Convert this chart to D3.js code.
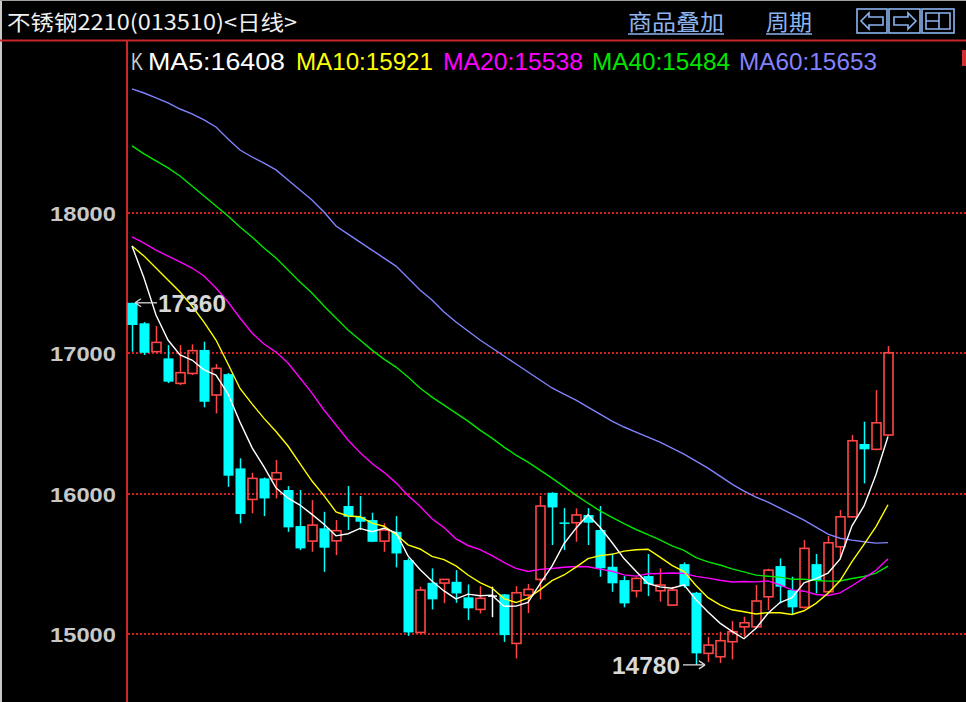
<!DOCTYPE html>
<html><head><meta charset="utf-8">
<script src="https://cdn.jsdelivr.net/npm/d3@7"></script>
<style>html,body{margin:0;padding:0;background:#000;overflow:hidden} svg{display:block}</style>
</head><body><svg id="c" width="966" height="702"></svg>
<script>
// ---- data ----
const opens  = [17360,17214,17012,16964,16786,16857,17024,16703,16852,16180,15959,16109,16102,16026,15769,15662,15753,15664,15912,15835,15812,15662,15728,15527,15011,15365,15363,15372,15261,15175,15270,15282,14933,15277,15389,16006,15795,15793,15848,15741,15479,15384,15308,15413,15308,15206,15498,15294,14862,14838,14945,15051,15051,15265,15484,15313,15190,15498,15301,15622,15835,16354,16316,16418];
const highs  = [17360,17223,17195,17059,17059,17064,17083,16924,16860,16252,16149,16115,16240,16054,16026,15954,15871,15812,16054,15983,15864,15790,15840,15540,15337,15468,15392,15455,15353,15341,15337,15285,15341,15356,15983,16010,15897,15895,15897,15912,15574,15413,15405,15570,15468,15337,15510,15300,14980,15016,15092,15123,15349,15465,15539,15408,15669,15570,15698,15883,16418,16513,16738,17052];
const lows   = [17012,16988,17005,16788,16774,16845,16615,16572,16049,15788,15860,15840,15966,15728,15598,15586,15443,15562,15741,15741,15655,15586,15475,14987,15005,15175,15220,15222,15099,15147,15120,14944,14826,15149,15247,15634,15598,15657,15634,15408,15301,15190,15261,15270,15230,15200,15330,14780,14800,14793,14819,14980,15040,15170,15218,15135,15180,15289,15290,15551,15830,16073,16310,16410];
const closes = [17202,17004,17078,16798,16862,17019,16655,16893,16128,15855,16109,15966,16149,15760,15610,15776,15615,15736,15835,15800,15657,15741,15574,15011,15313,15247,15389,15289,15183,15254,15270,14992,15294,15318,15912,15902,15790,15848,15793,15468,15361,15218,15396,15356,15349,15313,15341,14862,14921,14952,15016,15080,15235,15455,15337,15190,15610,15384,15650,15835,16377,16316,16505,17004];
const ma5Head  = [17765,17537,17273,17095];
const ma10Head = [17765,17693,17608,17522,17437,17337,17223,17095,16924];
const ma20Head = [17829,17786,17736,17693,17651,17608,17551,17465,17366,17252,17145,17066,17009,16931,16824,16717,16596,16489,16382];
const ma40Head = [18478,18421,18371,18321,18264,18192,18121,18050,17979,17900,17829,17751,17679,17594,17508,17430,17337,17252,17166,17095,17023,16959,16902,16831,16753,16688,16631,16574,16517,16453,16396,16332,16275,16225,16168,16111,16050,15990,15932];
const ma60Head = [18884,18855,18820,18784,18741,18706,18663,18613,18527,18449,18399,18356,18307,18235,18164,18093,18007,17907,17850,17793,17736,17679,17622,17537,17451,17380,17294,17223,17159,17095,17038,16981,16924,16867,16810,16753,16710,16667,16617,16567,16517,16475,16439,16403,16368,16325,16282,16232,16182,16125,16068,16018,15976,15940,15897,15854,15812,15762,15712];
const yTicks = [15000,16000,17000,18000];
const maNames  = ["MA5","MA10","MA20","MA40","MA60"];
const maPeriods = [5,10,20,40,60];
const maLegendValues = [16408,15921,15538,15484,15653];
const maColors = ["#ffffff","#ffff00","#ff00ff","#00e600","#8282ff"];
const titleText = "不锈钢2210(013510)<日线>";

// ---- build ----
const svg = d3.select("#c");
const W = 966, H = 702;
svg.append("rect").attr("width",W).attr("height",H).attr("fill","#000");
svg.append("rect").attr("x",0).attr("y",0).attr("width",2).attr("height",H).attr("fill","#c8c8c8");
svg.append("rect").attr("x",0).attr("y",0).attr("width",W).attr("height",1).attr("fill","#a0a0a0");

const N = closes.length;
const x = d3.scaleLinear().domain([0, N-1]).range([132, 888]);
const y = d3.scaleLinear().domain([15000, 18000]).range([634, 213]);

function movingAvg(period, head){
  return closes.map((c,i)=> i < period-1 ? head[i] : d3.mean(closes.slice(i-period+1, i+1)));
}
const heads = [ma5Head, ma10Head, ma20Head, ma40Head, ma60Head];
const maSeries = maPeriods.map((p,k)=>movingAvg(p, heads[k]));

// frame lines
svg.append("line").attr("x1",0).attr("x2",W).attr("y1",40.5).attr("y2",40.5).attr("stroke","#c82828").attr("stroke-width",2);
svg.append("line").attr("x1",127).attr("x2",127).attr("y1",40).attr("y2",H).attr("stroke","#c82828").attr("stroke-width",2);
svg.append("rect").attr("x",962).attr("y",50).attr("width",4).attr("height",16).attr("fill","#d03030");

// grid
svg.append("g").selectAll("line").data(yTicks).join("line")
  .attr("x1",128).attr("x2",W).attr("y1",d=>Math.round(y(d))).attr("y2",d=>Math.round(y(d)))
  .attr("stroke","#d02020").attr("stroke-width",1.3).attr("stroke-dasharray","2,2").attr("shape-rendering","crispEdges");

// y axis
const ax = svg.append("g").attr("transform","translate(118,0)")
  .call(d3.axisLeft(y).tickValues(yTicks).tickSize(0).tickPadding(2).tickFormat(d3.format("d")));
ax.select(".domain").remove();
ax.selectAll("text").attr("fill","#c8c8c8").attr("font-family","Liberation Sans, Arial, sans-serif")
  .attr("font-size",21).attr("font-weight","bold").attr("textLength",66).attr("lengthAdjust","spacingAndGlyphs").attr("dy","0.36em");

// candles
const UP = "#ff4646", DN = "#00ffff", EQ = "#ffffff";
const bw = 9;
const data = d3.range(N).map(i=>({i,o:opens[i],h:highs[i],l:lows[i],c:closes[i]}));
const cg = svg.append("g");
data.forEach(d=>{
  const cx = Math.round(x(d.i)) + 0.5;
  const g = cg.append("g");
  if (d.c > d.o){
    g.append("line").attr("x1",cx).attr("x2",cx).attr("y1",y(d.h)).attr("y2",y(d.c)).attr("stroke",UP).attr("stroke-width",1.5);
    g.append("line").attr("x1",cx).attr("x2",cx).attr("y1",y(d.o)).attr("y2",y(d.l)).attr("stroke",UP).attr("stroke-width",1.5);
    g.append("rect").attr("x",cx-bw/2).attr("y",y(d.c)).attr("width",bw).attr("height",Math.max(1,y(d.o)-y(d.c)))
      .attr("fill","none").attr("stroke",UP).attr("stroke-width",1.6);
  } else if (d.c < d.o){
    g.append("line").attr("x1",cx).attr("x2",cx).attr("y1",y(d.h)).attr("y2",y(d.l)).attr("stroke",DN).attr("stroke-width",1.5);
    g.append("rect").attr("x",cx-bw/2-0.5).attr("y",y(d.o)).attr("width",bw+1).attr("height",Math.max(1.5,y(d.c)-y(d.o))).attr("fill",DN);
  } else {
    g.append("line").attr("x1",cx).attr("x2",cx).attr("y1",y(d.h)).attr("y2",y(d.l)).attr("stroke",EQ).attr("stroke-width",1.5);
    g.append("line").attr("x1",cx-bw/2).attr("x2",cx+bw/2).attr("y1",y(d.o)).attr("y2",y(d.o)).attr("stroke",EQ).attr("stroke-width",1.5);
  }
});

// MA lines (longest first)
const line = d3.line().x((v,i)=>x(i)).y(v=>y(v));
for (let k = maSeries.length-1; k >= 0; k--){
  svg.append("path").attr("d", line(maSeries[k])).attr("fill","none").attr("stroke",maColors[k]).attr("stroke-width",1.4);
}

// high / low markers
const hiIdx = d3.maxIndex(highs), loIdx = d3.minIndex(lows);
const markFont = "Liberation Sans, Arial, sans-serif";
{
  const hx = x(hiIdx), hy = y(highs[hiIdx]);
  svg.append("line").attr("x1",hx+3).attr("x2",hx+25).attr("y1",hy).attr("y2",hy).attr("stroke","#d8d8d8").attr("stroke-width",1.3);
  svg.append("path").attr("d",`M${hx+3},${hy}L${hx+9},${hy-4}M${hx+3},${hy}L${hx+9},${hy+4}`).attr("stroke","#d8d8d8").attr("stroke-width",1.3).attr("fill","none");
  svg.append("text").attr("x",hx+26).attr("y",hy+9).text(d3.format("d")(highs[hiIdx]))
    .attr("fill","#d8d8d8").attr("font-family",markFont).attr("font-weight","bold").attr("font-size",24).attr("textLength",68).attr("lengthAdjust","spacingAndGlyphs");
}
{
  const lx = x(loIdx), ly = y(lows[loIdx]);
  svg.append("line").attr("x1",lx-13).attr("x2",lx+9).attr("y1",ly).attr("y2",ly).attr("stroke","#d8d8d8").attr("stroke-width",1.3);
  svg.append("path").attr("d",`M${lx+9},${ly}L${lx+3},${ly-4}M${lx+9},${ly}L${lx+3},${ly+4}`).attr("stroke","#d8d8d8").attr("stroke-width",1.3).attr("fill","none");
  svg.append("text").attr("x",lx-16).attr("y",ly+9).attr("text-anchor","end").text(d3.format("d")(lows[loIdx]))
    .attr("fill","#d8d8d8").attr("font-family",markFont).attr("font-weight","bold").attr("font-size",24).attr("textLength",68).attr("lengthAdjust","spacingAndGlyphs");
}

// legend
const legFont = "Liberation Sans, Arial, sans-serif";
const legX = [148,296,443,592,739];
const legW = [137,137,140,138,138];
svg.append("text").attr("x",131).attr("y",70).text("K").attr("fill","#c8c8c8").attr("font-family",legFont).attr("font-size",23).attr("textLength",12).attr("lengthAdjust","spacingAndGlyphs");
maNames.forEach((n,k)=>{
  svg.append("text").attr("x",legX[k]).attr("y",70).text(`${n}:${maLegendValues[k]}`).attr("fill",maColors[k])
    .attr("font-family",legFont).attr("font-size",23).attr("textLength",legW[k]).attr("lengthAdjust","spacingAndGlyphs");
});

// title bar
const cjk = "Noto Sans CJK SC, sans-serif";
svg.append("text").attr("x",7).attr("y",30).text(titleText).attr("fill","#f0f0f0").attr("font-family",cjk)
  .attr("font-size",21).attr("textLength",290).attr("lengthAdjust","spacingAndGlyphs");
const linkC = "#8cb4f0";
[["商品叠加",628,96],["周期",766,46]].forEach(([t,lx,lw])=>{
  svg.append("text").attr("x",lx).attr("y",30).text(t).attr("fill",linkC).attr("font-family",cjk).attr("font-size",22)
    .attr("textLength",lw).attr("lengthAdjust","spacingAndGlyphs");
  svg.append("line").attr("x1",lx).attr("x2",lx+lw).attr("y1",34).attr("y2",34).attr("stroke",linkC).attr("stroke-width",1.5);
});
const btn = svg.append("g").attr("stroke",linkC).attr("stroke-width",1.6).attr("fill","none");
btn.append("rect").attr("x",857).attr("y",9).attr("width",30).attr("height",24);
btn.append("rect").attr("x",889).attr("y",9).attr("width",31).attr("height",24);
btn.append("rect").attr("x",922).attr("y",9).attr("width",32).attr("height",24);
btn.append("path").attr("d","M861,21L869,13V17H883V25H869V29Z");
btn.append("path").attr("d","M916,21L908,13V17H894V25H908V29Z");
btn.append("path").attr("d","M926,13H950V29H926ZM926,21H939M939,13V29");
</script></body></html>
